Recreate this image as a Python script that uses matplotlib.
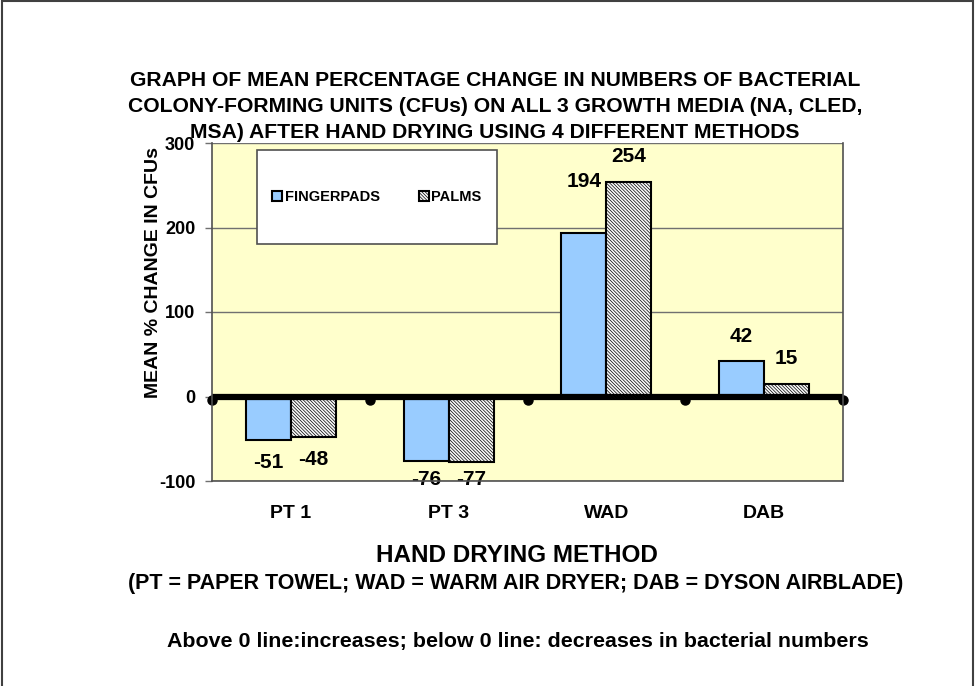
import numpy as np
import matplotlib
matplotlib.use("Agg")
import matplotlib.pyplot as plt
import matplotlib.transforms as mtransforms
from matplotlib.patches import Rectangle

plt.rcParams['font.family'] = ['Liberation Sans', 'DejaVu Sans']
plt.rcParams['font.weight'] = 'bold'
plt.rcParams['axes.unicode_minus'] = False
plt.rcParams['hatch.color'] = '#cfcfcf'
plt.rcParams['hatch.linewidth'] = 0.5

methods = ['PT 1', 'PT 3', 'WAD', 'DAB']
fingerpads = [-51, -76, 194, 42]
palms = [-48, -77, 254, 15]
series_names = ['FINGERPADS', 'PALMS']
title_lines = ['GRAPH OF MEAN PERCENTAGE CHANGE IN NUMBERS OF BACTERIAL',
               'COLONY-FORMING UNITS (CFUs) ON ALL 3 GROWTH MEDIA (NA, CLED,',
               'MSA) AFTER HAND DRYING USING 4 DIFFERENT METHODS']

# label offsets in points (hand placed in the original)
fp_offsets = [-16.5, -13.5, 37, 17.5]
palm_offsets = [-16, -13, 18, 18]

fig = plt.figure(figsize=(9.75, 6.86), dpi=100)
ax = fig.add_axes([212 / 975, 1 - 481 / 686, 631 / 975, 338 / 686])
ax.set_facecolor('#FFFFCC')

x = np.arange(len(methods))
w = 0.285
b1 = ax.bar(x - w / 2, fingerpads, w, color='#99CCFF', edgecolor='black', linewidth=1.5, zorder=3)
b2 = ax.bar(x + w / 2, palms, w, color='#f9f9f9', edgecolor='black', linewidth=1.5,
            hatch='\\' * 10, zorder=3)

for bars, vals, offs in [(b1, fingerpads, fp_offsets), (b2, palms, palm_offsets)]:
    for bar, v, o in zip(bars, vals, offs):
        ax.annotate(str(v), (bar.get_x() + bar.get_width() / 2, v), xytext=(0, o),
                    textcoords='offset points', ha='center', va='center',
                    fontsize=15, fontweight='bold', zorder=2)

# thick zero line with round markers at category boundaries
bounds = np.arange(len(methods) + 1) - 0.5
ax.axhline(0, color='black', lw=4.5, zorder=4, solid_capstyle='round')
dot_tr = mtransforms.offset_copy(ax.transData, fig=fig, y=-3, units='dots')
ax.plot(bounds, np.zeros_like(bounds), 'o', color='black', ms=6.5,
        transform=dot_tr, zorder=4, clip_on=False)

ax.set_xlim(-0.5, len(methods) - 0.5)
ax.set_ylim(-100, 300)
ax.set_yticks([-100, 0, 100, 200, 300])
ax.yaxis.grid(True, color='#707070', lw=1, zorder=0)
ax.set_xticks(x)
ax.set_xticklabels(methods, fontsize=14, fontweight='bold')
ax.tick_params(axis='x', length=0, pad=17)
ax.tick_params(axis='y', length=5, width=1, color='#707070', labelsize=13, pad=7)
ax.spines['top'].set_visible(False)
for s in ['left', 'bottom', 'right']:
    ax.spines[s].set_color('#505050')
    ax.spines[s].set_linewidth(1.2)
    ax.spines[s].set_zorder(5)

fig.text(153 / 975, 1 - 273 / 686, 'MEAN % CHANGE IN CFUs', rotation=90,
         ha='center', va='center', fontsize=14, fontweight='bold')

# legend box
ax.add_patch(Rectangle((45 / 631, 1 - 101 / 338), 240 / 631, 94 / 338, transform=ax.transAxes,
                       facecolor='white', edgecolor='#505050', lw=1.2, zorder=6))
leg = ax.legend([b1, b2], series_names, loc='center', bbox_to_anchor=(165 / 631, 1 - 54 / 338),
                ncol=2, frameon=False, fontsize=10.5, handlelength=0.65, handleheight=0.65,
                handletextpad=0.2, columnspacing=2.7)
leg.set_zorder(7)

for i, line in enumerate(title_lines):
    fig.text(495 / 975, 1 - (80 + 26.5 * i) / 686, line, ha='center', va='center',
             fontsize=15.2, fontweight='bold')
fig.text(517 / 975, 1 - 555 / 686, 'HAND DRYING METHOD', ha='center', va='center',
         fontsize=17.5, fontweight='bold')
fig.text(516 / 975, 1 - 584 / 686,
         '(PT = PAPER TOWEL; WAD = WARM AIR DRYER; DAB = DYSON AIRBLADE)',
         ha='center', va='center', fontsize=15.5, fontweight='bold')
fig.text(518 / 975, 1 - 641 / 686,
         'Above 0 line:increases; below 0 line: decreases in bacterial numbers',
         ha='center', va='center', fontsize=15.4, fontweight='bold')

fig.patches.append(Rectangle((2 / 975, -0.02), 971 / 975, 1.02 - 1 / 686, transform=fig.transFigure,
                             fill=False, edgecolor='#404040', lw=1.5))

fig.savefig('out.png', dpi=100)
